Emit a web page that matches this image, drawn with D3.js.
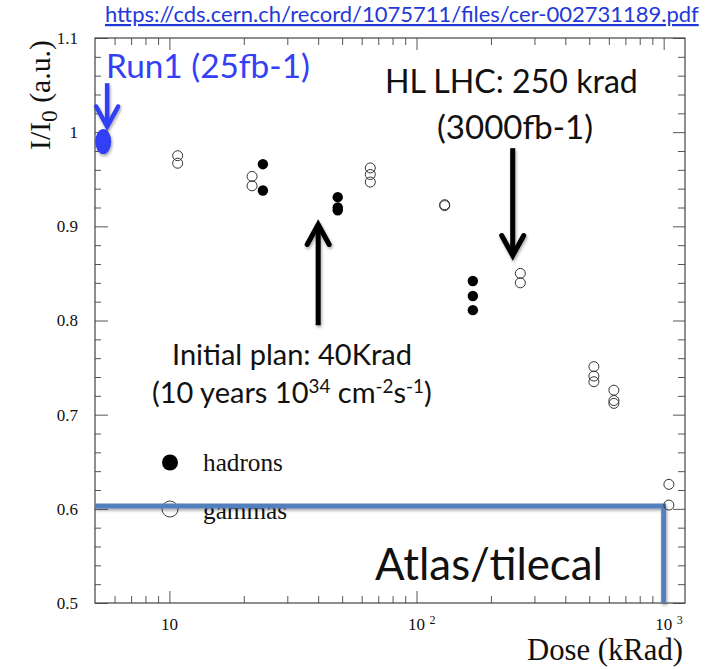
<!DOCTYPE html>
<html><head><meta charset="utf-8">
<script src="https://cdn.jsdelivr.net/npm/d3@7"></script>
<style>body{margin:0;background:#fff}</style>
</head><body><svg id="c" width="715" height="669"></svg>
<script>
// ---------- data ----------
const hadronDose = [23.9, 23.9, 48, 48, 48, 169, 169, 169];
const hadronI    = [0.966, 0.938, 0.931, 0.920, 0.917, 0.842, 0.826, 0.811];
const gammaDose  = [10.8, 10.8, 21.6, 21.6, 65, 65, 65, 130, 130, 263, 263, 522, 522, 522, 629, 629, 629, 1050, 1050];
const gammaI     = [0.975, 0.967, 0.953, 0.943, 0.962, 0.955, 0.947, 0.923, 0.922, 0.850, 0.840, 0.751, 0.741, 0.735, 0.726, 0.715, 0.712, 0.626, 0.604];
const run1Dose = [5.4];
const run1I    = [0.99];
const xMajor = [10, 100, 1000];
const xMajorExp = ["", "2", "3"];
const xMinor = [6,7,8,9,20,30,40,50,60,70,80,90,200,300,400,500,600,700,800,900];
const yMajor = [0.5, 0.6, 0.7, 0.8, 0.9, 1.0, 1.1];
const yMinor = [0.52,0.54,0.56,0.58,0.62,0.64,0.66,0.68,0.72,0.74,0.76,0.78,0.82,0.84,0.86,0.88,0.92,0.94,0.96,0.98,1.02,1.04,1.06,1.08];
// annotations
const hlDose = 245, hlArrowI = [0.983, 0.869], hlLevel = 0.856;
const planDose = 40, planArrowI = [0.795, 0.902];
const run1ArrowDose = 5.6, run1ArrowI = [1.052, 1.006];
const atlasLevel = 0.603, atlasEnd = 1000;
const xDomain = [5, 1220], yDomain = [0.5, 1.1];

// ---------- setup ----------
const svg = d3.select("#c");
const L = 95, R = 685, T = 38, B = 603;
const x = d3.scaleLog().domain(xDomain).range([L, R]);
const y = d3.scaleLinear().domain(yDomain).range([B, T]);
const serif = "'Liberation Serif', 'Times New Roman', serif";
const sans = "Lato, 'Open Sans', sans-serif";

const defs = svg.append("defs");
const f = defs.append("filter").attr("id","sh").attr("x","-20%").attr("y","-20%").attr("width","140%").attr("height","160%");
f.append("feDropShadow").attr("dx",1).attr("dy",2).attr("stdDeviation",1.5).attr("flood-color","#000").attr("flood-opacity",0.35);

function fit(t, w){
  const cur = t.node().getComputedTextLength();
  const fs = parseFloat(t.attr("font-size"));
  t.attr("font-size", fs * w / cur);
  return t;
}

// ---------- axes ----------
const axc = "#555";
function ticks(axisGen, vals, size, tr){
  const g = svg.append("g").attr("transform", tr)
    .call(axisGen.tickValues(vals).tickSizeInner(size).tickSizeOuter(0).tickFormat(""));
  g.select(".domain").remove();
  g.selectAll("line").attr("stroke", axc);
  return g;
}
ticks(d3.axisBottom(x), xMajor, -12, `translate(0,${B})`);
ticks(d3.axisBottom(x), xMinor, -7, `translate(0,${B})`);
ticks(d3.axisTop(x), xMajor, -12, `translate(0,${T})`);
ticks(d3.axisTop(x), xMinor, -7, `translate(0,${T})`);
ticks(d3.axisLeft(y), yMajor, -13, `translate(${L},0)`);
ticks(d3.axisLeft(y), yMinor, -6, `translate(${L},0)`);
ticks(d3.axisRight(y), yMajor, -12, `translate(${R},0)`);
ticks(d3.axisRight(y), yMinor, -7, `translate(${R},0)`);
svg.append("rect").attr("x",L).attr("y",T).attr("width",R-L).attr("height",B-T)
  .attr("fill","none").attr("stroke","#444").attr("stroke-width",1.2);

// y tick labels
svg.append("g").selectAll("text").data(yMajor).join("text")
  .attr("x", 78).attr("y", d => y(d)).attr("dy","0.35em")
  .attr("text-anchor","end").attr("font-family", serif).attr("font-size", 17).attr("fill","#111")
  .text(d => d === 1 ? "1" : d3.format(".1f")(d));
// x tick labels
const xl = svg.append("g");
xl.selectAll("text.base").data(xMajor).join("text").attr("class","base")
  .attr("x", d => x(d)).attr("y", 630).attr("text-anchor","middle")
  .attr("font-family", serif).attr("font-size", 17).attr("fill","#111").text("10");
xl.selectAll("text.exp").data(xMajor).join("text").attr("class","exp")
  .attr("x", d => x(d) + 13).attr("y", 624)
  .attr("font-family", serif).attr("font-size", 12).attr("fill","#111").text((d,i) => xMajorExp[i]);

// axis titles
fit(svg.append("text").attr("x", 683).attr("y", 660).attr("text-anchor","end")
  .attr("font-family", serif).attr("font-size", 30).attr("fill","#111").text("Dose (kRad)"), 156);
const yt = svg.append("text").attr("transform","translate(50,150) rotate(-90)")
  .attr("font-family", serif).attr("font-size", 30).attr("fill","#111");
yt.append("tspan").text("I/I");
yt.append("tspan").attr("font-size","0.78em").attr("dy","0.3em").text("0");
yt.append("tspan").attr("dy","-0.23em").text(" (a.u.)");
fit(yt, 110);

// ---------- legend ----------
svg.append("circle").attr("cx",170).attr("cy",462.5).attr("r",8).attr("fill","#000");
svg.append("circle").attr("cx",170).attr("cy",509).attr("r",8).attr("fill","none").attr("stroke","#444").attr("stroke-width",1);
const lh = fit(svg.append("text").attr("x",203).attr("y",471).attr("font-family",serif).attr("font-size",24).attr("fill","#111").text("hadrons"), 80);
svg.append("text").attr("x",203).attr("y",519).attr("font-family",serif).attr("font-size",lh.attr("font-size")).attr("fill","#111").text("gammas");

// ---------- Atlas/tilecal box ----------
const line = d3.line().x(d => x(d[0])).y(d => y(d[1]));
svg.append("path").attr("d", line([[xDomain[0], atlasLevel],[atlasEnd, atlasLevel],[atlasEnd, yDomain[0]]]))
  .attr("fill","none").attr("stroke","#5380bd").attr("stroke-width",5).attr("filter","url(#sh)");

// ---------- data points ----------
svg.append("g").selectAll("circle").data(gammaDose.map((d,i)=>[d,gammaI[i]])).join("circle")
  .attr("cx", d => x(d[0])).attr("cy", d => y(d[1])).attr("r", 5)
  .attr("fill","none").attr("stroke","#333").attr("stroke-width",1);
svg.append("g").selectAll("circle").data(hadronDose.map((d,i)=>[d,hadronI[i]])).join("circle")
  .attr("cx", d => x(d[0])).attr("cy", d => y(d[1])).attr("r", 5.2).attr("fill","#000");

// Run1 point
svg.append("g").selectAll("ellipse").data(run1Dose.map((d,i)=>[d,run1I[i]])).join("ellipse")
  .attr("cx", d => x(d[0])).attr("cy", d => y(d[1])).attr("rx", 8).attr("ry", 12.5)
  .attr("fill","#3340f5").attr("filter","url(#sh)");

// ---------- annotations ----------
function arrow(dose, iv, color, w, hw, hl){
  const x0 = x(dose), y0 = y(iv[0]), y1 = y(iv[1]);
  const s = Math.sign(y1 - y0);
  const g = svg.append("g").attr("filter","url(#sh)").attr("fill","none").attr("stroke",color).attr("stroke-width",w);
  g.append("path").attr("d", `M${x0},${y0}L${x0},${y1 - s*1}`);
  g.append("path").attr("d", `M${x0-hw},${y1 - s*hl}L${x0},${y1}L${x0+hw},${y1 - s*hl}`)
    .attr("stroke-linejoin","miter").attr("stroke-linecap","round");
}
// dashed HL level
svg.append("path").attr("d", line([[xDomain[0], hlLevel],[hlDose, hlLevel]]))
  .attr("stroke","#000").attr("stroke-width",4.5).attr("stroke-dasharray","15.5,5.5").attr("filter","url(#sh)");
arrow(hlDose, hlArrowI, "#000", 5, 11, 20);
arrow(planDose, planArrowI, "#000", 5, 11, 20);
arrow(run1ArrowDose, run1ArrowI, "#3340f5", 4.5, 11, 20);

// texts
fit(svg.append("text").attr("x",105).attr("y",22).attr("font-family",sans).attr("font-size",19)
  .attr("fill","#2338d8").attr("text-decoration","underline")
  .text("https://cds.cern.ch/record/1075711/files/cer-002731189.pdf"), 594);
fit(svg.append("text").attr("x",106).attr("y",78).attr("font-family",sans).attr("font-size",30)
  .attr("fill","#3340f5").text("Run1 (25fb-1)"), 204);
fit(svg.append("text").attr("x",385).attr("y",93).attr("font-family",sans).attr("font-size",30)
  .attr("fill","#111").text("HL LHC: 250 krad"), 253);
fit(svg.append("text").attr("x",515).attr("y",139).attr("text-anchor","middle").attr("font-family",sans).attr("font-size",30)
  .attr("fill","#111").text("(3000fb-1)"), 156);
fit(svg.append("text").attr("x",172).attr("y",365).attr("font-family",sans).attr("font-size",24)
  .attr("fill","#111").text("Initial plan: 40Krad"), 240);
const t2 = svg.append("text").attr("x",152).attr("y",403).attr("font-family",sans).attr("font-size",24).attr("fill","#111");
t2.append("tspan").text("(10 years 10");
t2.append("tspan").attr("font-size","0.65em").attr("dy","-0.55em").text("34");
t2.append("tspan").attr("dy","0.357em").text(" cm");
t2.append("tspan").attr("font-size","0.65em").attr("dy","-0.55em").text("-2");
t2.append("tspan").attr("dy","0.357em").text("s");
t2.append("tspan").attr("font-size","0.65em").attr("dy","-0.55em").text("-1");
t2.append("tspan").attr("dy","0.357em").text(")");
fit(t2, 280);
fit(svg.append("text").attr("x",375).attr("y",580).attr("font-family",sans).attr("font-size",40)
  .attr("fill","#111").text("Atlas/tilecal"), 228);
</script></body></html>
